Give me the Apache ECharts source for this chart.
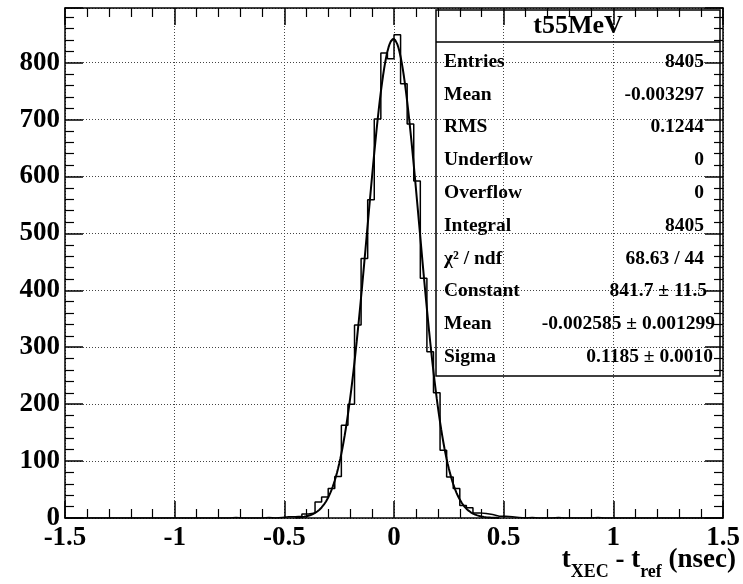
<!DOCTYPE html>
<html><head><meta charset="utf-8">
<script src="https://cdn.jsdelivr.net/npm/echarts@6/dist/echarts.min.js"></script>
<style>html,body{margin:0;padding:0;background:#fff}#c{width:743px;height:584px}</style>
</head><body><div id="c"></div>
<script>
// ---- data ----
const binLow = -1.5;
const binWidth = 0.03;
const counts = [
  0,0,0,0,0,0,0,0,0,0,
  0,0,0,0,0,0,0,0,0,0,
  0,0,0,0,0,1,0,0,0,0,
  1,0,1,2,2,3,7,9,28,37,
  52,73,163,200,339,456,559,701,817,807,
  849,763,692,592,421,292,220,119,72,52,
  22,18,9,8,6,3,3,2,1,0,
  1,0,0,0,1,0,0,0,0,0,
  1,0,0,0,0,0,0,0,0,0,
  0,0,0,0,0,0,0,0,0,0
];
const fitConstant = 841.7;
const fitMean = -0.002585;
const fitSigma = 0.1185;
const fitRange = [-0.45, 0.48];
const xRange = [-1.5, 1.5];
const yRange = [0, 896];
const statsTitle = 't55MeV';
const statsLabels = ['Entries','Mean','RMS','Underflow','Overflow','Integral','\u03C7\u00B2 / ndf','Constant','Mean','Sigma'];
const statsValues = ['8405','-0.003297','0.1244','0','0','8405','68.63 / 44','841.7 \u00B1 11.5','-0.002585 \u00B1 0.001299','0.1185 \u00B1 0.0010'];

// ---- build ----
const histData = counts.map((v, k) => [binLow + k * binWidth, v]);
histData.push([binLow + counts.length * binWidth, counts[counts.length - 1]]);
const fitData = [];
for (let i = 0; i <= 186; i++) {
  const x = fitRange[0] + (fitRange[1] - fitRange[0]) * i / 186;
  const z = (x - fitMean) / fitSigma;
  fitData.push([x, fitConstant * Math.exp(-0.5 * z * z)]);
}

const FONT = '"Liberation Serif","Times New Roman",serif';
const frameLine = { show: true, onZero: false, lineStyle: { color: '#000', width: 1.5 } };
const grid = { left: 65, right: 20, top: 8, bottom: 66, outerBoundsMode: 'none', containLabel: false };

const rowY0 = 61.7, rowDY = 32.8;
const valueRight = [704,704,704,704,704,704,704,707,715,713];
const graphics = [
  { type: 'rect', shape: { x: 436, y: 10, width: 284, height: 366 }, style: { fill: 'none', stroke: '#000', lineWidth: 1.5 }, z: 10 },
  { type: 'line', shape: { x1: 436, y1: 42, x2: 720, y2: 42 }, style: { stroke: '#000', lineWidth: 1.5 }, z: 10 },
  { type: 'text', x: 578, y: 26, style: { text: statsTitle, font: 'bold 26px ' + FONT, fill: '#000', align: 'center', verticalAlign: 'middle', textAlign: 'center', textVerticalAlign: 'middle' }, z: 10 }
];
statsLabels.forEach((lab, i) => {
  const y = rowY0 + i * rowDY;
  graphics.push({ type: 'text', x: 444, y: y, style: { text: lab, font: 'bold 19.5px ' + FONT, fill: '#000', align: 'left', verticalAlign: 'middle', textAlign: 'left', textVerticalAlign: 'middle' }, z: 10 });
  graphics.push({ type: 'text', x: valueRight[i], y: y, style: { text: statsValues[i], font: 'bold 19.5px ' + FONT, fill: '#000', align: 'right', verticalAlign: 'middle', textAlign: 'right', textVerticalAlign: 'middle' }, z: 10 });
});
graphics.push({
  type: 'text', x: 736, y: 547, z: 10,
  style: {
    text: '{m|t}{s|XEC}{m| - t}{s|ref}{m| (nsec)}',
    align: 'right', verticalAlign: 'top', textAlign: 'right', textVerticalAlign: 'top',
    rich: {
      m: { font: 'bold 27px ' + FONT, fill: '#000', lineHeight: 28, verticalAlign: 'top' },
      s: { font: 'bold 18px ' + FONT, fill: '#000', lineHeight: 18, padding: [16, 0, 0, 0], verticalAlign: 'top' }
    }
  }
});

const chart = echarts.init(document.getElementById('c'), null, { renderer: 'canvas' });
chart.setOption({
  animation: false,
  backgroundColor: '#fff',
  grid: grid,
  xAxis: [
    {
      type: 'value', min: xRange[0], max: xRange[1], interval: 0.5, position: 'bottom',
      axisLine: frameLine,
      axisTick: { show: true, inside: true, length: 17, lineStyle: { color: '#000', width: 1.5 } },
      minorTick: { show: true, splitNumber: 5, length: 9, lineStyle: { color: '#000', width: 1.2 } },
      axisLabel: { show: true, margin: 7, color: '#000', fontFamily: FONT, fontWeight: 'bold', fontSize: 27 },
      splitLine: { show: true, lineStyle: { color: '#444', width: 1, type: [1, 2] } }
    },
    {
      type: 'value', min: xRange[0], max: xRange[1], interval: 0.5, position: 'top',
      axisLine: frameLine,
      axisTick: { show: true, inside: true, length: 17, lineStyle: { color: '#000', width: 1.5 } },
      minorTick: { show: true, splitNumber: 5, length: 9, lineStyle: { color: '#000', width: 1.2 } },
      axisLabel: { show: false }, splitLine: { show: false }
    }
  ],
  yAxis: [
    {
      type: 'value', min: yRange[0], max: yRange[1], interval: 100, position: 'left',
      axisLine: frameLine,
      axisTick: { show: true, inside: true, length: 18, lineStyle: { color: '#000', width: 1.5 } },
      minorTick: { show: true, splitNumber: 5, length: 9, lineStyle: { color: '#000', width: 1.2 } },
      axisLabel: { show: true, margin: 5, color: '#000', fontFamily: FONT, fontWeight: 'bold', fontSize: 27, showMaxLabel: false,
        formatter: v => (v % 100 === 0 ? String(v) : '') },
      splitLine: { show: true, lineStyle: { color: '#444', width: 1, type: [1, 2] } }
    },
    {
      type: 'value', min: yRange[0], max: yRange[1], interval: 100, position: 'right',
      axisLine: frameLine,
      axisTick: { show: true, inside: true, length: 18, lineStyle: { color: '#000', width: 1.5 } },
      minorTick: { show: true, splitNumber: 5, length: 9, lineStyle: { color: '#000', width: 1.2 } },
      axisLabel: { show: false }, splitLine: { show: false }
    }
  ],
  series: [
    { type: 'line', name: 'hist', xAxisIndex: 0, yAxisIndex: 0, data: histData, step: 'end', symbol: 'none',
      lineStyle: { color: '#000', width: 1.5 }, z: 3 },
    { type: 'line', name: 'fit', xAxisIndex: 0, yAxisIndex: 0, data: fitData, symbol: 'none', smooth: false,
      lineStyle: { color: '#000', width: 2 }, z: 4 }
  ],
  graphic: graphics
});
</script>
</body></html>
